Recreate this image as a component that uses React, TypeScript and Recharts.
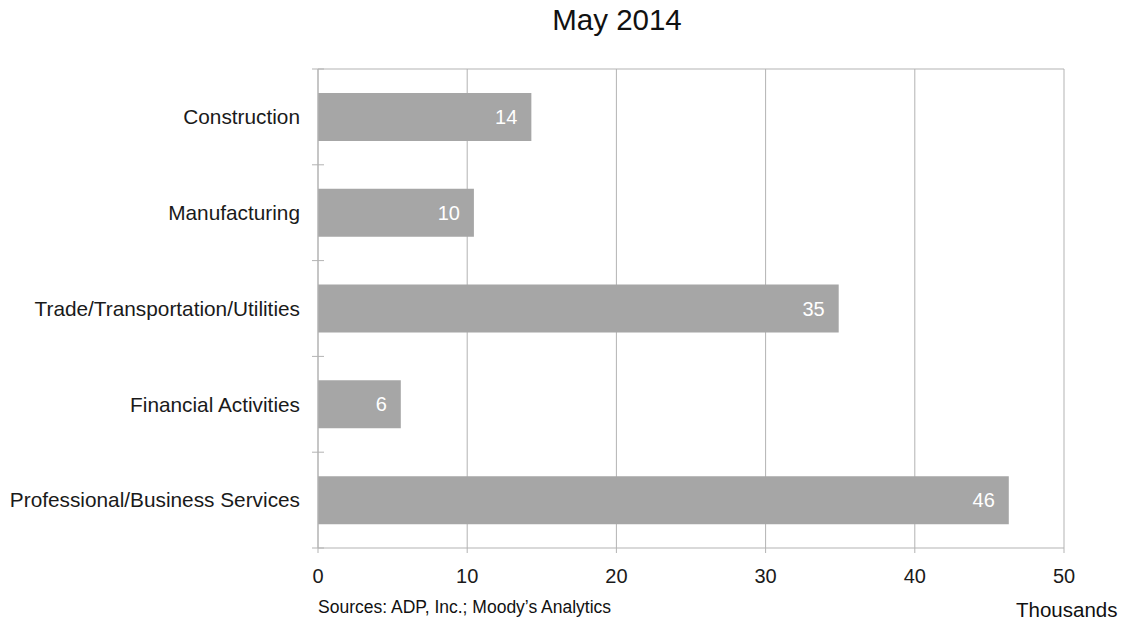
import { BarChart, Bar, XAxis, YAxis, CartesianGrid, LabelList } from "recharts";

const categories = [
  "Construction",
  "Manufacturing",
  "Trade/Transportation/Utilities",
  "Financial Activities",
  "Professional/Business Services",
];
const jobs = [14.3, 10.45, 34.9, 5.55, 46.3];
const xTicks = [0, 10, 20, 30, 40, 50];

const data = categories.map((name, i) => ({ name, jobs: jobs[i] }));

const FONT = "'Liberation Sans', Arial, sans-serif";
const GRID = "#b3b3b3";

function CategoryTick(props: any) {
  const { x, y, payload, index } = props;
  const half = payload?.offset ?? 0;
  return (
    <g>
      <text x={x - 18} y={y} dy="0.35em" textAnchor="end" fontSize={20.8} fill="#1a1a1a" fontFamily={FONT}>
        {payload.value}
      </text>
      {index === 0 && <line x1={x - 6} x2={x + 6} y1={y - half} y2={y - half} stroke={GRID} />}
      <line x1={x - 6} x2={x + 6} y1={y + half} y2={y + half} stroke={GRID} />
    </g>
  );
}

export default function App() {
  return (
    <div style={{ position: "relative", width: 1124, height: 623, fontFamily: FONT }}>
      <style>{"body{margin:0}"}</style>
      <div style={{ position: "absolute", left: 0, width: 1234, top: 3, textAlign: "center", fontSize: 29.5, color: "#111" }}>
        May 2014
      </div>
      <BarChart
        width={1124}
        height={623}
        data={data}
        layout="vertical"
        margin={{ top: 69, right: 60, bottom: 0, left: 0 }}
        barCategoryGap="25%"
      >
        <CartesianGrid
          stroke={GRID}
          horizontalCoordinatesGenerator={({ offset }: any) => [offset.top]}
        />
        <XAxis
          type="number"
          domain={[0, 50]}
          ticks={xTicks}
          height={75}
          tickSize={5}
          tickMargin={16}
          axisLine={{ stroke: GRID }}
          tickLine={{ stroke: GRID }}
          tick={{ fontSize: 20, fill: "#1a1a1a", fontFamily: FONT }}
        />
        <YAxis
          type="category"
          dataKey="name"
          width={318}
          tickSize={0}
          tickMargin={0}
          tickLine={false}
          axisLine={{ stroke: GRID }}
          tick={<CategoryTick />}
          interval={0}
        />
        <Bar dataKey="jobs" fill="#a6a6a6" isAnimationActive={false}>
          <LabelList
            dataKey="jobs"
            position="insideRight"
            offset={14}
            formatter={(v: any) => Math.round(Number(v))}
            fill="#ffffff"
            fontSize={20}
            fontFamily={FONT}
          />
        </Bar>
      </BarChart>
      <div style={{ position: "absolute", left: 318, top: 597, fontSize: 17.5, color: "#111" }}>
        Sources: ADP, Inc.; Moody’s Analytics
      </div>
      <div style={{ position: "absolute", left: 1016, top: 598, fontSize: 20.5, color: "#111" }}>
        Thousands
      </div>
    </div>
  );
}
